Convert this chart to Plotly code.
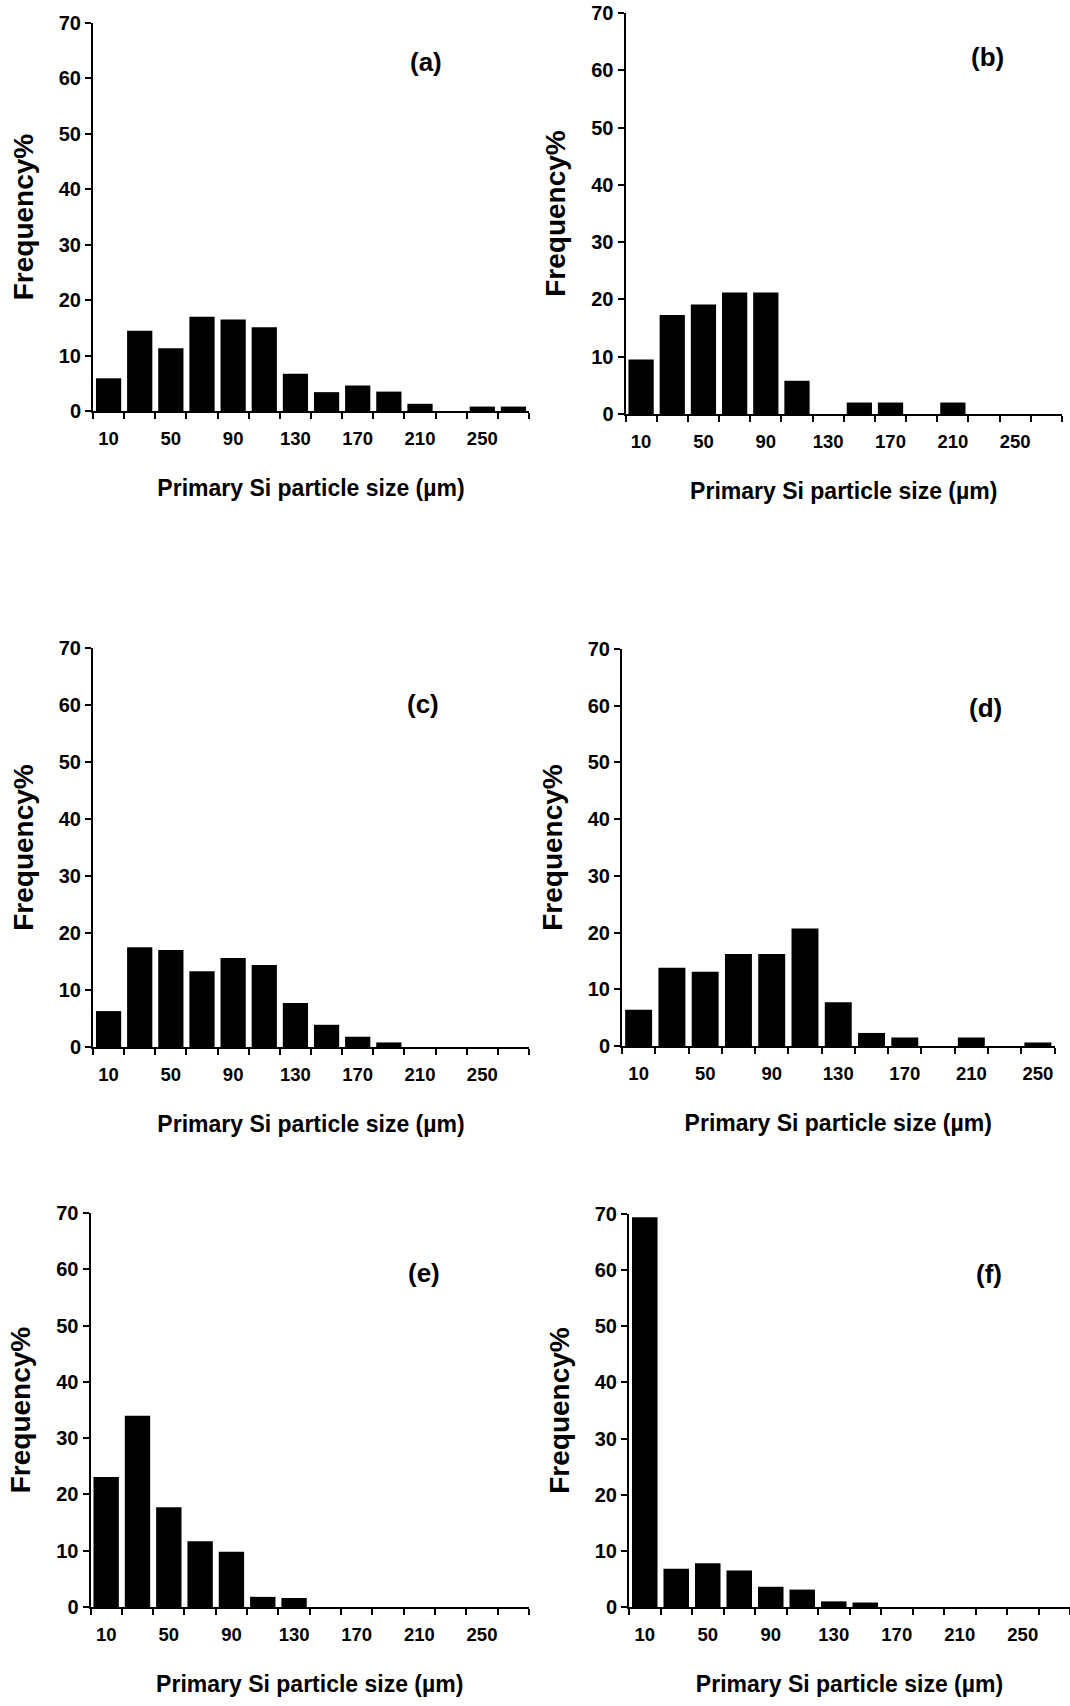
import plotly.graph_objects as go

# ---------------- data ----------------
sizes_14 = [10, 30, 50, 70, 90, 110, 130, 150, 170, 190, 210, 230, 250, 270]
sizes_13 = [10, 30, 50, 70, 90, 110, 130, 150, 170, 190, 210, 230, 250]

freq_a = [5.9, 14.5, 11.3, 17.0, 16.5, 15.1, 6.7, 3.4, 4.6, 3.5, 1.3, 0.0, 0.8, 0.8]
freq_b = [9.5, 17.3, 19.1, 21.2, 21.2, 5.8, 0.0, 2.0, 2.0, 0.0, 2.0, 0.0, 0.0, 0.0]
freq_c = [6.3, 17.5, 17.0, 13.3, 15.6, 14.4, 7.7, 3.9, 1.8, 0.8, 0.0, 0.0, 0.0, 0.0]
freq_d = [6.4, 13.8, 13.1, 16.2, 16.2, 20.7, 7.7, 2.3, 1.5, 0.0, 1.5, 0.0, 0.6]
freq_e = [23.1, 34.0, 17.7, 11.7, 9.8, 1.8, 1.6, 0.0, 0.0, 0.0, 0.0, 0.0, 0.0, 0.0]
freq_f = [69.4, 6.8, 7.8, 6.5, 3.6, 3.1, 1.0, 0.8, 0.0, 0.0, 0.0, 0.0, 0.0, 0.0]

tick_labels = [10, 50, 90, 130, 170, 210, 250]
y_ticks = [0, 10, 20, 30, 40, 50, 60, 70]
panel_labels = ["(a)", "(b)", "(c)", "(d)", "(e)", "(f)"]
x_title = "Primary Si particle size (µm)"
y_title = "Frequency%"

# ---------------- layout geometry (pixels) ----------------
W, H = 1070, 1706
# (x0, x1, ytop, ybottom) of each plot area, label centre (x, y)
boxes = [
    (93, 529, 23, 411, 426, 62),
    (625.5, 1062, 13, 414, 987, 57),
    (93, 529, 648, 1047, 423, 704),
    (622, 1054.5, 649, 1046, 985, 707.5),
    (90.5, 529, 1213, 1607, 424, 1272.5),
    (629, 1070, 1214, 1607, 988.5, 1274),
]
series = [
    (sizes_14, freq_a), (sizes_14, freq_b), (sizes_14, freq_c),
    (sizes_13, freq_d), (sizes_14, freq_e), (sizes_14, freq_f),
]

FONT = "Liberation Sans, Arial, sans-serif"

fig = go.Figure()
layout = dict(
    template="none",
    width=W, height=H, margin=dict(l=0, r=0, t=0, b=0, pad=0, autoexpand=False),
    paper_bgcolor="white", plot_bgcolor="white",
    showlegend=False, bargap=0.19,
    annotations=[],
)

for i, ((xs, ys), (x0, x1, yt, yb, lx, ly), lab) in enumerate(zip(series, boxes, panel_labels), start=1):
    xa = "x" if i == 1 else f"x{i}"
    ya = "y" if i == 1 else f"y{i}"
    fig.add_trace(go.Bar(x=xs, y=ys, xaxis=xa, yaxis=ya,
                         marker=dict(color="black", line=dict(width=0))))
    n = len(xs)
    bounds = [20 * k for k in range(n + 1)]
    layout["xaxis" if i == 1 else f"xaxis{i}"] = dict(
        domain=[x0 / W, x1 / W], anchor=ya, range=[0, 20 * n],
        automargin=False,
        showline=True, linecolor="black", linewidth=2, mirror=False,
        showgrid=False, zeroline=False,
        tickmode="array", tickvals=tick_labels, ticktext=[str(t) for t in tick_labels],
        ticks="", ticklabelstandoff=10,
        tickfont=dict(family=FONT, size=18.5, color="black", weight="bold"),
        minor=dict(tickmode="array", tickvals=bounds, ticks="outside", ticklen=6,
                   tickwidth=2, tickcolor="black", showgrid=False),
        title=dict(text=x_title, standoff=32,
                   font=dict(family=FONT, size=23, color="black", weight="bold")),
        fixedrange=True,
    )
    layout["yaxis" if i == 1 else f"yaxis{i}"] = dict(
        domain=[1 - yb / H, 1 - yt / H], anchor=xa, range=[0, 70],
        automargin=False,
        showline=True, linecolor="black", linewidth=2,
        showgrid=False, zeroline=False,
        tickmode="array", tickvals=y_ticks, ticks="outside", ticklen=6,
        tickwidth=2, tickcolor="black",
        tickfont=dict(family=FONT, size=20, color="black", weight="bold"),
        title=dict(text=y_title, standoff=17,
                   font=dict(family=FONT, size=28, color="black", weight="bold")),
        fixedrange=True,
    )
    layout["annotations"].append(dict(
        text=lab, x=lx / W, y=1 - ly / H, xref="paper", yref="paper",
        xanchor="center", yanchor="middle", showarrow=False,
        font=dict(family=FONT, size=26, color="black", weight="bold"),
    ))

fig.update_layout(**layout)
fig.write_html("out.html")
